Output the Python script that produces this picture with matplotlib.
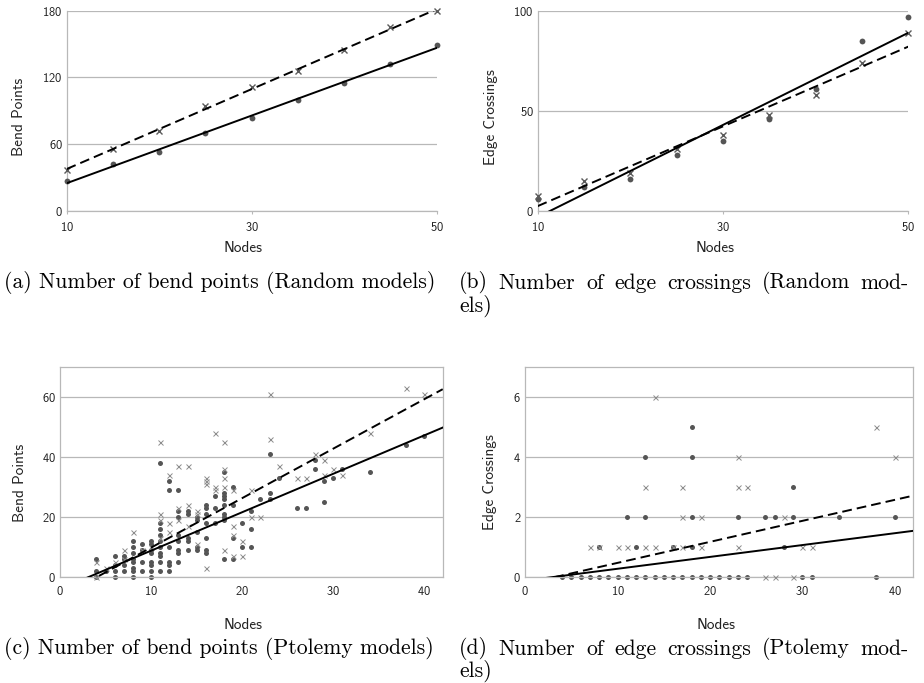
import matplotlib

matplotlib.use("Agg")
import matplotlib.pyplot as plt
import numpy as np

plt.rcParams["font.family"] = ["cmss10", "DejaVu Sans"]
plt.rcParams["axes.formatter.use_mathtext"] = True

W, H = 924, 683

GRID = "#b8b8b8"
DOT = "#555555"
CROSS_DARK = "#5a5a5a"
CROSS_LIGHT = "#8c8c8c"
TEXT = "#222222"

# Random models: one value per model size
RANDOM_NODES = [10, 15, 20, 25, 30, 35, 40, 45, 50]
RANDOM_BENDS_DOT = [27, 42, 53, 70, 84, 100, 115, 132, 149]
RANDOM_BENDS_CROSS = [37, 56, 72, 94, 111, 126, 145, 165, 180]
RANDOM_CROSS_DOT = [6, 12, 16, 28, 35, 46, 61, 85, 97]
RANDOM_CROSS_CROSS = [7.5, 15, 19, 31, 38, 48, 58, 74, 89]

# Ptolemy models: values grouped by node count
BEND_DOT_NODES = [4, 5, 6, 7, 8, 9, 10, 11, 12, 13, 14, 15, 16, 17, 18, 19, 20,
                  21, 22, 23, 24, 26, 27, 28, 29, 30, 31, 34, 38, 40]
BEND_DOT_VALUES = [
    [6, 2, 0], [2], [7, 4, 2, 0], [7, 6, 4, 2], [12, 10, 8, 6, 5, 3, 2, 0],
    [11, 9, 5, 2], [12, 11, 9, 8, 5, 4, 2, 0], [38, 18, 16, 14, 12, 10, 8, 7, 5, 2],
    [32, 29, 10, 5, 4, 2], [29, 22, 20, 14, 12, 9, 8, 5], [22, 21, 13, 12, 9],
    [20, 19, 15, 10, 9], [24, 23, 21, 18, 13, 9, 8], [27, 23, 18],
    [35, 28, 27, 26, 24, 21, 20, 19, 6], [30, 24, 13, 6], [18, 10], [22, 16, 10],
    [26], [41, 28, 26], [33], [23], [23], [39, 36], [32, 25], [33], [36], [35],
    [44], [47],
]
BEND_CROSS_NODES = [4, 5, 6, 7, 8, 9, 10, 11, 12, 13, 14, 15, 16, 17, 18, 19, 20,
                    21, 22, 23, 24, 26, 27, 28, 29, 30, 31, 34, 38, 40]
BEND_CROSS_VALUES = [
    [5, 0], [3], [5], [9, 6], [15], [9], [10], [45, 21, 19, 13], [34, 18, 15],
    [37, 23, 19], [37, 24, 17], [22, 21, 11], [33, 32, 31, 3], [48, 30, 29],
    [45, 36, 33, 30, 9], [29, 17, 14, 7], [12, 7], [29, 20], [20], [61, 46], [37],
    [33], [33], [41], [39, 34], [36], [34], [48], [63], [61],
]
# trend lines (slope, intercept) as drawn in the original
BEND_TREND_DOT = [1.282, -4.14]
BEND_TREND_CROSS = [1.65, -6.8]

CR_DOT_NODES = [4, 5, 6, 7, 8, 9, 10, 11, 12, 13, 14, 15, 16, 17, 18, 19, 20, 21,
                22, 23, 24, 26, 27, 28, 29, 30, 31, 34, 38, 40]
CR_DOT_VALUES = [
    [0], [0], [0], [0], [0, 1], [0], [0], [0, 2], [0, 1], [0, 2, 4], [0], [0],
    [0, 1], [0], [0, 1, 2, 4, 5], [0], [0], [0], [0], [0, 2], [0], [2], [2], [1],
    [2, 3], [0], [0], [2], [0], [2],
]
CR_CROSS_NODES = [7, 8, 10, 11, 13, 14, 16, 17, 19, 23, 24, 26, 27, 28, 29, 30,
                  31, 38, 40]
CR_CROSS_VALUES = [
    [1], [1], [1], [1], [1, 3], [1, 6], [1], [1, 2, 3], [1, 2], [1, 3, 4], [3],
    [0], [0], [2], [0], [1], [1], [5], [4],
]
CR_TREND_DOT = [0.0395, -0.13]
CR_TREND_CROSS = [0.07, -0.238]

# caption lines; the hyphenated lines are justified like in the paper
CAPTION_LINES = [
    "(a) Number of bend points (Random models)",
    "(b) Number of edge crossings (Random mod-",
    "els)",
    "(c) Number of bend points (Ptolemy models)",
    "(d) Number of edge crossings (Ptolemy mod-",
    "els)",
]
CAPTION_POS = [(4, 283, None), (459, 283, 450), (459, 306, None),
               (4, 649, None), (459, 649, 450), (459, 671, None)]


def expand(nodes, values):
    x = np.repeat(nodes, [len(v) for v in values])
    y = np.concatenate([np.asarray(v, dtype=float) for v in values])
    return x, y


def px_axes(fig, left, top, right, bottom):
    return fig.add_axes([left / W, 1 - bottom / H, (right - left) / W, (bottom - top) / H])


def style(ax, boxed):
    ax.grid(axis="y", color=GRID, lw=0.9)
    ax.set_axisbelow(True)
    for side in ax.spines:
        ax.spines[side].set_color(GRID)
        ax.spines[side].set_linewidth(0.9)
    if not boxed:
        ax.spines["top"].set_visible(False)
        ax.spines["right"].set_visible(False)
    ax.tick_params(labelsize=9, labelcolor=TEXT, color=GRID)
    ax.tick_params(axis="y", length=0, pad=3)
    if boxed:
        ax.tick_params(axis="x", length=0, pad=6)
    else:
        ax.tick_params(axis="x", length=2.5, pad=5)


def trend(ax, coef, dashed):
    x = np.array(ax.get_xlim())
    ax.plot(x, coef[0] * x + coef[1], color="black", lw=1.4,
            ls=(0, (5, 2.6)) if dashed else "-", zorder=4)


def labels(ax, ylabel, ylab_x, ylab_y, xlab_x, xlab_y):
    ax.set_xlabel("Nodes", fontsize=11, color=TEXT, va="center")
    ax.set_ylabel(ylabel, fontsize=11, color=TEXT, va="center")
    ax.xaxis.set_label_coords(xlab_x, xlab_y)
    ax.yaxis.set_label_coords(ylab_x, ylab_y)


def caption(fig, text, x0, yc, width):
    kw = dict(family="cmr10", fontsize=15.6, ha="left", va="center", color="black")
    if width is None:
        fig.text(x0 / W, 1 - yc / H, text, **kw)
        return
    renderer = fig.canvas.get_renderer()
    words = [fig.text(0, 1 - yc / H, w, **kw) for w in text.split(" ")]
    sizes = [t.get_window_extent(renderer).width for t in words]
    gap = (width - sum(sizes)) / (len(words) - 1)
    x = x0
    for t, s in zip(words, sizes):
        t.set_x(x / W)
        x += s + gap


fig = plt.figure(figsize=(W / 100, H / 100), dpi=100)

# (a)
ax = px_axes(fig, 66.7, 10.7, 436.7, 211)
ax.plot(RANDOM_NODES, RANDOM_BENDS_DOT, "o", ms=4.2, color=DOT, mec="none",
        zorder=3, clip_on=False)
ax.plot(RANDOM_NODES, RANDOM_BENDS_CROSS, "x", ms=4, mew=1, color=CROSS_DARK,
        zorder=3, clip_on=False)
ax.set_xlim(10, 50)
ax.set_ylim(0, 180)
ax.set_xticks([10, 30, 50])
ax.set_yticks([0, 60, 120, 180])
style(ax, boxed=False)
trend(ax, np.polyfit(RANDOM_NODES, RANDOM_BENDS_DOT, 1), dashed=False)
trend(ax, np.polyfit(RANDOM_NODES, RANDOM_BENDS_CROSS, 1), dashed=True)
labels(ax, "Bend Points", -0.128, 0.47, 0.476, -0.185)

# (b)
ax = px_axes(fig, 537.7, 10.7, 908.3, 210.7)
ax.plot(RANDOM_NODES, RANDOM_CROSS_DOT, "o", ms=4.2, color=DOT, mec="none",
        zorder=3, clip_on=False)
ax.plot(RANDOM_NODES, RANDOM_CROSS_CROSS, "x", ms=4, mew=1, color=CROSS_DARK,
        zorder=3, clip_on=False)
ax.set_xlim(10, 50)
ax.set_ylim(0, 100)
ax.set_xticks([10, 30, 50])
ax.set_yticks([0, 50, 100])
style(ax, boxed=False)
trend(ax, np.polyfit(RANDOM_NODES, RANDOM_CROSS_DOT, 1), dashed=False)
trend(ax, np.polyfit(RANDOM_NODES, RANDOM_CROSS_CROSS, 1), dashed=True)
labels(ax, "Edge Crossings", -0.125, 0.467, 0.478, -0.187)

# (c)
ax = px_axes(fig, 60, 366.7, 442.7, 576.7)
x, y = expand(BEND_DOT_NODES, BEND_DOT_VALUES)
ax.plot(x, y, "o", ms=3.6, color=DOT, mec="none", zorder=2, clip_on=False)
x, y = expand(BEND_CROSS_NODES, BEND_CROSS_VALUES)
ax.plot(x, y, "x", ms=3.6, mew=0.7, color=CROSS_LIGHT, zorder=3, clip_on=False)
ax.set_xlim(0, 42)
ax.set_ylim(0, 70)
ax.set_xticks([0, 10, 20, 30, 40])
ax.set_yticks([0, 20, 40, 60])
style(ax, boxed=True)
trend(ax, BEND_TREND_DOT, dashed=False)
trend(ax, BEND_TREND_CROSS, dashed=True)
labels(ax, "Bend Points", -0.105, 0.445, 0.478, -0.23)

# (d)
ax = px_axes(fig, 525.3, 366.7, 913.3, 576.7)
x, y = expand(CR_DOT_NODES, CR_DOT_VALUES)
ax.plot(x, y, "o", ms=3.6, color=DOT, mec="none", zorder=2, clip_on=False)
x, y = expand(CR_CROSS_NODES, CR_CROSS_VALUES)
ax.plot(x, y, "x", ms=3.6, mew=0.7, color=CROSS_LIGHT, zorder=3, clip_on=False)
ax.set_xlim(0, 42)
ax.set_ylim(0, 7)
ax.set_xticks([0, 10, 20, 30, 40])
ax.set_yticks([0, 2, 4, 6])
style(ax, boxed=True)
trend(ax, CR_TREND_DOT, dashed=False)
trend(ax, CR_TREND_CROSS, dashed=True)
labels(ax, "Edge Crossings", -0.09, 0.449, 0.491, -0.23)

for text, (cx, cy, width) in zip(CAPTION_LINES, CAPTION_POS):
    caption(fig, text, cx, cy, width)

fig.savefig("out.png", dpi=100)
